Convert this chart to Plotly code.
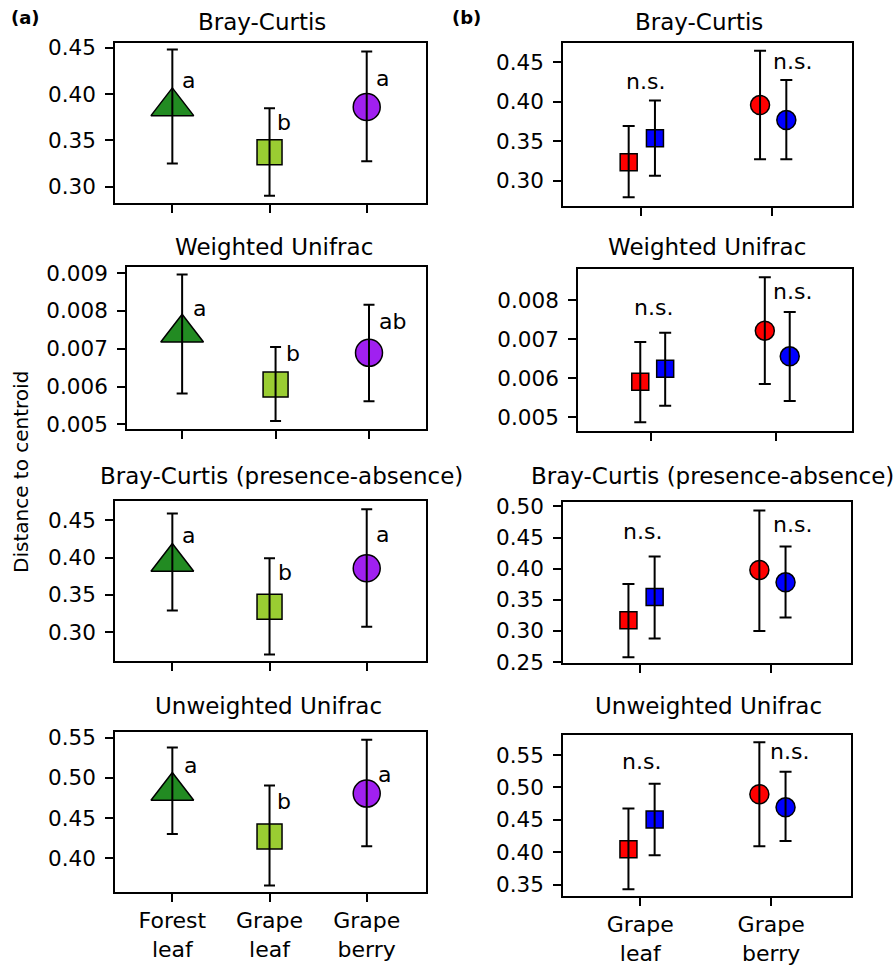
import plotly.graph_objects as go

W, H = 896, 968
FONT = "DejaVu Sans"

# ---------------- data ----------------
metrics = ["Bray-Curtis", "Weighted Unifrac", "Bray-Curtis (presence-absence)", "Unweighted Unifrac"]

a_categories = ["Forest<br>leaf", "Grape<br>leaf", "Grape<br>berry"]
b_categories = ["Grape<br>leaf", "Grape<br>berry"]

# panel (a): habitat means with lower / upper error-bar ends
a_means = [
    [0.3866, 0.3372, 0.3860],
    [0.00742, 0.00605, 0.00689],
    [0.3940, 0.3340, 0.3857],
    [0.4835, 0.4270, 0.4804],
]
a_low = [
    [0.3250, 0.2903, 0.3274],
    [0.005812, 0.005087, 0.005608],
    [0.3290, 0.2701, 0.3073],
    [0.4301, 0.3660, 0.4148],
]
a_high = [
    [0.4480, 0.3846, 0.4457],
    [0.00896, 0.007044, 0.008164],
    [0.4589, 0.3992, 0.4647],
    [0.5376, 0.4905, 0.5475],
]
a_letters = [
    ["a", "b", "a"],
    ["a", "b", "ab"],
    ["a", "b", "a"],
    ["a", "b", "a"],
]

# panel (b): two groups (red, blue) per habitat
red_means = [
    [0.3238, 0.3960],
    [0.005913, 0.007222],
    [0.3169, 0.3978],
    [0.4046, 0.4895],
]
red_low = [
    [0.2793, 0.3275],
    [0.004872, 0.005853],
    [0.2576, 0.3000],
    [0.3427, 0.4093],
]
red_high = [
    [0.3697, 0.4648],
    [0.006931, 0.008590],
    [0.3753, 0.4935],
    [0.4676, 0.5696],
]
blue_means = [
    [0.3540, 0.3770],
    [0.006245, 0.006563],
    [0.3545, 0.3780],
    [0.4505, 0.4692],
]
blue_low = [
    [0.3067, 0.3275],
    [0.005298, 0.005418],
    [0.2876, 0.3215],
    [0.3953, 0.4174],
]
blue_high = [
    [0.4018, 0.4277],
    [0.007171, 0.007700],
    [0.4194, 0.4355],
    [0.5056, 0.5242],
]
b_labels = ["n.s.", "n.s."]

# axis ticks
a_tickvals = [
    [0.30, 0.35, 0.40, 0.45],
    [0.005, 0.006, 0.007, 0.008, 0.009],
    [0.30, 0.35, 0.40, 0.45],
    [0.40, 0.45, 0.50, 0.55],
]
b_tickvals = [
    [0.30, 0.35, 0.40, 0.45],
    [0.005, 0.006, 0.007, 0.008],
    [0.25, 0.30, 0.35, 0.40, 0.45, 0.50],
    [0.35, 0.40, 0.45, 0.50, 0.55],
]

# ---------------- layout / style ----------------
a_boxes = [(115, 426, 43, 203), (127, 426, 267, 429), (115, 426, 501, 661), (115, 426, 732, 892)]
b_boxes = [(563, 852, 43, 206), (578, 852, 269, 431), (563, 851, 502, 663), (563, 851, 735, 896)]
a_yranges = [[0.2824, 0.455], [0.004876, 0.00916], [0.2613, 0.4758], [0.3579, 0.557]]
b_yranges = [[0.2683, 0.4746], [0.004649, 0.008803], [0.2484, 0.5071], [0.3324, 0.5809]]
a_letter_pos = [
    [(1.17, 0.415), (2.15, 0.369), (3.16, 0.4172)],
    [(1.19, 0.00806), (2.19, 0.00687), (3.25, 0.00771)],
    [(1.17, 0.4298), (2.16, 0.3793), (3.16, 0.4308)],
    [(1.19, 0.5157), (2.15, 0.4702), (3.18, 0.5046)],
]
b_label_pos = [
    [(1.04, 0.4259), (2.16, 0.4513)],
    [(1.02, 0.007821), (2.13, 0.008221)],
    [(1.02, 0.4597), (2.16, 0.4705)],
    [(1.01, 0.5396), (2.14, 0.5551)],
]
title_pos = [((262, 22), (699, 22)), ((274, 247), (707, 247)), ((281, 476), (712, 476)), ((268, 706), (708, 706))]
a_colors = ["#228B22", "#9ACD32", "#A020F0"]
a_symbols = ["triangle-up", "square", "circle"]
a_sizes = [37, 25, 27]
b_offsets = [-0.09, 0.11]
b_symbols = ["square", "circle"]

fig = go.Figure()
layout = dict(
    width=W, height=H, margin=dict(l=0, r=0, t=0, b=0, pad=0),
    paper_bgcolor="white", plot_bgcolor="white", showlegend=False,
    font=dict(family=FONT, size=21, color="black"),
)
annotations = []


def axis_common():
    return dict(showline=True, linecolor="black", linewidth=1.6, mirror=True,
                ticks="outside", ticklen=8, tickwidth=1.6, tickcolor="black",
                showgrid=False, zeroline=False, automargin=False)


def errbar(means, lows, highs, w):
    return dict(type="data", symmetric=False,
                array=[h - m for h, m in zip(highs, means)],
                arrayminus=[m - l for m, l in zip(means, lows)],
                color="black", thickness=2, width=w, visible=True)


for r in range(4):
    for side in ("a", "b"):
        idx = 2 * r + (1 if side == "a" else 2)
        xa = "x" if idx == 1 else f"x{idx}"
        ya = "y" if idx == 1 else f"y{idx}"
        xkey = "xaxis" if idx == 1 else f"xaxis{idx}"
        ykey = "yaxis" if idx == 1 else f"yaxis{idx}"
        box = a_boxes[r] if side == "a" else b_boxes[r]
        l, rr, t, b = box
        cats = a_categories if side == "a" else b_categories
        xpos = list(range(1, len(cats) + 1))
        is_wu = metrics[r] == "Weighted Unifrac"
        xax = axis_common()
        xax.update(domain=[l / W, rr / W], anchor=ya,
                   range=[0.41, len(cats) + 0.61],
                   tickvals=xpos, ticktext=cats if r == 3 else [""] * len(cats),
                   showticklabels=(r == 3), tickfont=dict(size=22, family=FONT))
        yax = axis_common()
        yax.update(domain=[1 - b / H, 1 - t / H], anchor=xa,
                   range=a_yranges[r] if side == "a" else b_yranges[r],
                   tickvals=a_tickvals[r] if side == "a" else b_tickvals[r],
                   tickformat=".3f" if is_wu else ".2f",
                   ticklabelstandoff=5,
                   tickfont=dict(size=21.5, family=FONT))
        layout[xkey] = xax
        layout[ykey] = yax

        if side == "a":
            fig.add_trace(go.Scatter(
                x=xpos, y=a_means[r], mode="markers", xaxis=xa, yaxis=ya,
                marker=dict(symbol=a_symbols, color=a_colors, size=a_sizes, opacity=1,
                            line=dict(color="black", width=1.5)),
                hoverinfo="skip"))
            fig.add_trace(go.Scatter(
                x=xpos, y=a_means[r], mode="markers", xaxis=xa, yaxis=ya,
                marker=dict(size=1, color="rgba(0,0,0,0)"),
                error_y=errbar(a_means[r], a_low[r], a_high[r], 5.5),
                hoverinfo="skip"))
            for (lx, ly), txt in zip(a_letter_pos[r], a_letters[r]):
                annotations.append(dict(x=lx, y=ly, xref=xa, yref=ya, text=txt,
                                        showarrow=False, xanchor="center", yanchor="middle",
                                        font=dict(size=22, family=FONT)))
        else:
            groups = [
                (red_means[r], red_low[r], red_high[r], "#FF0000", b_offsets[0]),
                (blue_means[r], blue_low[r], blue_high[r], "#0000FF", b_offsets[1]),
            ]
            for means, lows, highs, col, off in groups:
                gx = [p + off for p in xpos]
                fig.add_trace(go.Scatter(
                    x=gx, y=means, mode="markers", xaxis=xa, yaxis=ya,
                    marker=dict(symbol=b_symbols, color=col, opacity=1,
                                size=[17, 19], line=dict(color="black", width=1.5)),
                    hoverinfo="skip"))
                fig.add_trace(go.Scatter(
                    x=gx, y=means, mode="markers", xaxis=xa, yaxis=ya,
                    marker=dict(size=1, color="rgba(0,0,0,0)"),
                    error_y=errbar(means, lows, highs, 6),
                    hoverinfo="skip"))
            for (lx, ly), txt in zip(b_label_pos[r], b_labels):
                annotations.append(dict(x=lx, y=ly, xref=xa, yref=ya, text=txt,
                                        showarrow=False, xanchor="center", yanchor="middle",
                                        font=dict(size=22, family=FONT)))

    # panel titles
    for (cx, cy) in title_pos[r]:
        annotations.append(dict(x=cx / W, y=1 - cy / H, xref="paper", yref="paper",
                                text=metrics[r], showarrow=False,
                                xanchor="center", yanchor="middle",
                                font=dict(size=23, family=FONT)))

annotations.append(dict(x=25 / W, y=1 - 17 / H, xref="paper", yref="paper", text="<b>(a)</b>",
                        showarrow=False, xanchor="center", yanchor="middle",
                        font=dict(size=18, family=FONT)))
annotations.append(dict(x=466 / W, y=1 - 17 / H, xref="paper", yref="paper", text="<b>(b)</b>",
                        showarrow=False, xanchor="center", yanchor="middle",
                        font=dict(size=18, family=FONT)))
annotations.append(dict(x=21 / W, y=1 - 472 / H, xref="paper", yref="paper",
                        text="Distance to centroid", textangle=-90,
                        showarrow=False, xanchor="center", yanchor="middle",
                        font=dict(size=20, family=FONT)))

layout["annotations"] = annotations
fig.update_layout(**layout)
fig.write_html("out.html", config={"displayModeBar": False},
               post_script="document.body.style.margin='0px';document.body.style.overflow='hidden';")
